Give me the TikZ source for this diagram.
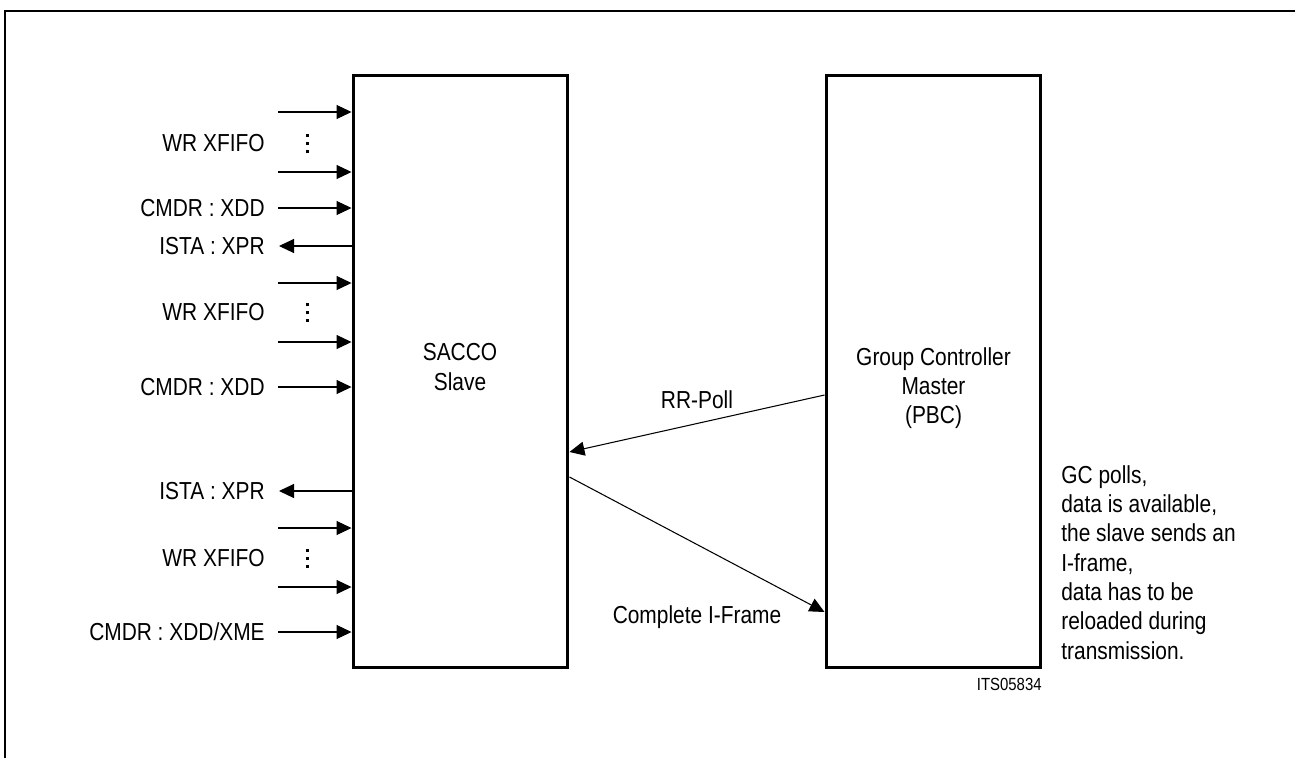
\documentclass[tikz,border=0pt]{standalone}
\usepackage{fontspec}
\setmainfont{Liberation Sans}[FakeStretch=0.85]
\usetikzlibrary{positioning,calc,arrows.meta}

\begin{document}
\begin{tikzpicture}[x=0.02cm,y=-0.02cm,
    bloc/.style={rectangle,draw,line width=1.7pt,minimum width=4.3cm,minimum height=11.86cm,inner sep=0},
    txt/.style={inner sep=0,font=\fontsize{14}{16.7}\selectfont},
    sig/.style={-{Triangle[length=0.3cm,width=0.28cm]},line width=0.6pt}]

\useasboundingbox (0,0) rectangle (1295,758);

% Cadre
\draw[line width=1.2pt] (5,758) -- (5,11) -- (1295,11);

% Blocs
\node[bloc] (sacco) at (460.5,371.5) {};
\node[bloc] (gc) at (933.5,371.5) {};
\node[txt,align=center] (saccotxt) at (460,367) {SACCO\\Slave};
\node[txt,align=center] (gctxt) at (933.5,388) {Group Controller\\Master\\(PBC)};

% Entrees
\foreach \y [count=\i] in {112,172,208,283,342,387,528,587,632} {
    \coordinate (in\i) at (278,\y);
    \draw[sig] (in\i) -- (in\i -| sacco.west);
}

% Sorties
\foreach \y [count=\i] in {246,491} {
    \coordinate (out\i) at (279,\y);
    \draw[sig] (out\i -| sacco.west) -- (out\i);
}

% Libelles
\foreach \y/\t [count=\i] in {143/{WR XFIFO},208/{CMDR : XDD},246/{ISTA : XPR},312/{WR XFIFO},
    387/{CMDR : XDD},491/{ISTA : XPR},558/{WR XFIFO},632/{CMDR : XDD/XME}} {
    \node[txt,anchor=east] (lbl\i) at (265,\y) {\t};
}

% Points
\foreach \y in {143,312,558}
    \foreach \d in {-8,0,8}
        \fill (305.5,\y+\d-1.5) rectangle ++(3,3);

% Echanges
\coordinate (rr) at (0,395);
\coordinate (sl) at (0,452);
\coordinate (fa) at (0,477);
\coordinate (fb) at (0,612);
\draw[sig] (gc.west |- rr) -- (sacco.east |- sl);
\draw[sig] (sacco.east |- fa) -- (gc.west |- fb);
\node[txt] (rrpoll) at (697,400) {RR-Poll};
\node[txt] (iframe) at (697,617) {Complete I-Frame};

% Note
\node[txt,anchor=north west,align=left] (note) at (1061,465) {GC polls,\\data is available,\\the slave sends an\\I-frame,\\data has to be\\reloaded during\\transmission.};
\node[txt,anchor=east,font=\fontsize{10}{11}\selectfont] (its) at (1042,684) {ITS05834};

\end{tikzpicture}
\end{document}
